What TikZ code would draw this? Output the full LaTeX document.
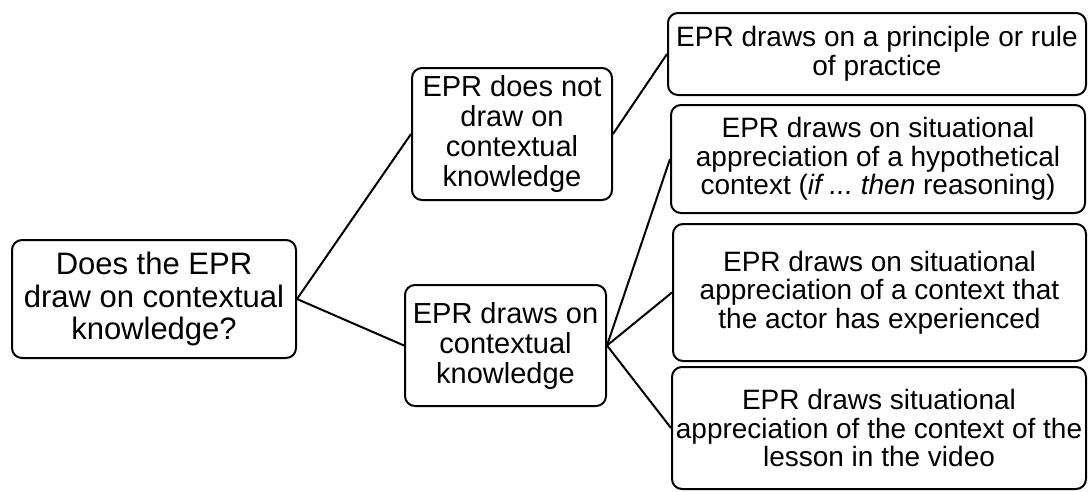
\documentclass[tikz,border=0pt]{standalone}
\usepackage{fontspec}
\setmainfont{Liberation Sans}
\frenchspacing
\begin{document}
\begin{tikzpicture}[x=1pt,y=-1pt,
  box/.style={draw=black, line width=2pt, rounded corners=10pt, fill=white,
    align=center, inner sep=0pt, anchor=center},
  big/.style={font=\fontsize{31}{32.5}\selectfont},
  mid/.style={font=\fontsize{29}{30}\selectfont},
  norm/.style={font=\fontsize{28}{28.5}\selectfont},
  link/.style={draw=black, line width=2pt}]
\useasboundingbox (0,0) rectangle (1088,491);
% root question
\node[box, big, minimum width=284pt, minimum height=118pt] (root) at (154,299)
  {Does the EPR\\draw on contextual\\knowledge?};
% second level
\node[box, mid, minimum width=200pt, minimum height=132pt] (mt) at (512,134)
  {EPR does not\\draw on\\contextual\\knowledge};
\node[box, mid, minimum width=201pt, minimum height=121pt] (mb) at (505.5,345.5)
  {EPR draws on\\contextual\\knowledge};
% third level
\node[box, norm, minimum width=418pt, minimum height=82pt] (r1) at (877,54)
  {EPR draws on a principle or rule\\of practice};
\node[box, norm, minimum width=414pt, minimum height=108pt] (r2) at (878,159)
  {EPR draws on situational\\appreciation of a hypothetical\\context (\textit{if ...\ then} reasoning)};
\node[box, norm, minimum width=413pt, minimum height=137pt] (r3) at (879.5,292.5)
  {EPR draws on situational\\appreciation of a context that\\the actor has experienced};
\node[box, norm, minimum width=414pt, minimum height=122pt] (r4) at (879,428)
  {EPR draws situational\\appreciation of the context of the\\lesson in the video};
% connectors
\draw[link] (root.east) -- (mt.west);
\draw[link] (root.east) -- (mb.west);
\draw[link] (mt.east) -- (r1.west);
\draw[link] (mb.east) -- (r2.west);
\draw[link] (mb.east) -- (r3.west);
\draw[link] (mb.east) -- (r4.west);
\end{tikzpicture}
\end{document}
